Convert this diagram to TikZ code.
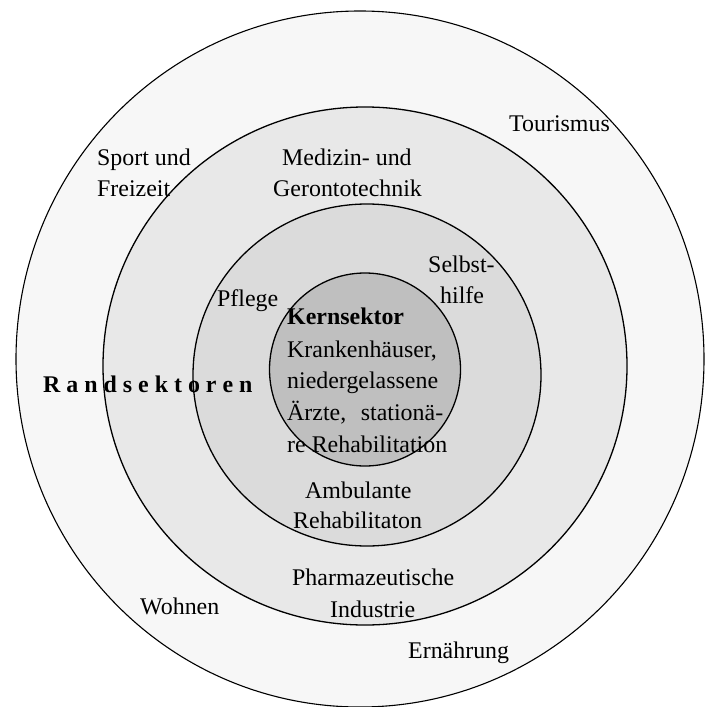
\documentclass[tikz,border=0pt]{standalone}
\usepackage{fontspec}
\setmainfont{Liberation Serif}
\begin{document}
\begin{tikzpicture}[x=1bp,y=-1bp,
  ring/.style={draw=black,line width=1.3bp},
  lbl/.style={anchor=base west,inner sep=0pt,font=\fontsize{24}{32}\selectfont}]
\useasboundingbox (0,0) rectangle (705,707);
\fill[white] (0,0) rectangle (705,707);
% rings
\draw[ring,fill=black!3,line width=1.1bp] (360,359) ellipse [x radius=344bp,y radius=348bp];
\draw[ring,fill=black!9] (365,366) ellipse [x radius=262bp,y radius=259bp];
\draw[ring,fill=black!14] (367,375) ellipse [x radius=174bp,y radius=171bp];
\draw[ring,fill=black!25] (365,369.5) ellipse [x radius=95.5bp,y radius=96.5bp];
% outer ring labels
\node[lbl] (tour) at (509,132) {Tourismus};
\node[lbl] (sport) at (97,165) {Sport und};
\node[lbl] (frei) at (97,196) {Freizeit};
\node[lbl] (wohn) at (140,614) {Wohnen};
\node[lbl] (ern) at (408,658) {Ernährung};
\node[lbl] (rand) at (43,392) {\bfseries R a n d s e k t o r e n};
% second ring labels
\node[lbl] (med) at (282,165) {Medizin- und};
\node[lbl] (ger) at (273,196) {Gerontotechnik};
\node[lbl] (pharm) at (292,585) {Pharmazeutische};
\node[lbl] (ind) at (330,617) {Industrie};
% third ring labels
\node[lbl] (selb) at (428,272) {Selbst-};
\node[lbl] (hilf) at (440,303) {hilfe};
\node[lbl] (pfl) at (217,306) {Pflege};
\node[lbl] (amb) at (305,498) {Ambulante};
\node[lbl] (rehab) at (293,528) {Rehabilitaton};
% core
\node[lbl] (kern) at (287,324) {\bfseries Kernsektor};
\node[lbl] (kh) at (287,357) {Krankenhäuser,};
\node[lbl] (nd) at (287,388) {niedergelassene};
\node[lbl] (ae) at (287,420) {\makebox[156bp][s]{Ärzte,\hfill stationä-}};
\node[lbl] (re) at (287,452) {re Rehabilitation};
\end{tikzpicture}
\end{document}
